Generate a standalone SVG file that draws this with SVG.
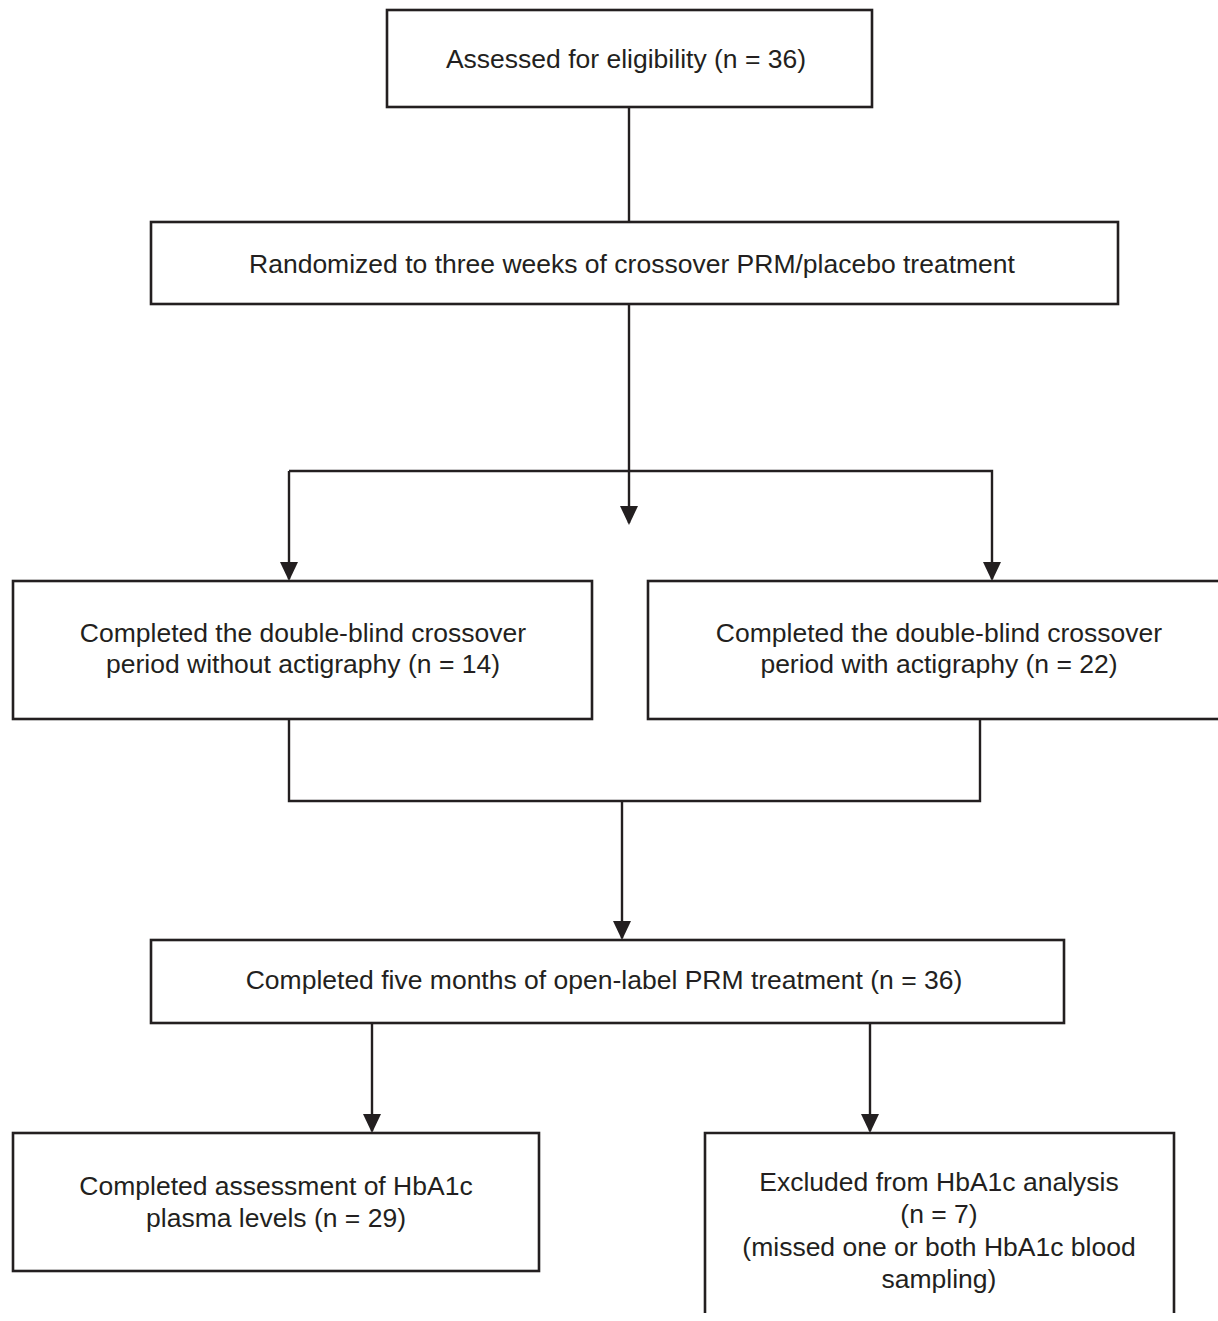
<svg xmlns="http://www.w3.org/2000/svg" width="1218" height="1321" viewBox="0 0 1218 1321">
<style>
.box{fill:#fff;stroke:#231f20;stroke-width:2.6}
.t{font-family:"Liberation Sans",Arial,sans-serif;font-size:26.5px;fill:#231f20;text-anchor:middle}
.c{fill:none;stroke:#231f20;stroke-width:2.4}
</style>
<defs>
<marker id="arr" markerUnits="userSpaceOnUse" markerWidth="20" markerHeight="20" viewBox="0 -10 20 20" refX="17" refY="0" orient="auto">
<path d="M0,-9 L19,0 L0,9 z" fill="#231f20"/>
</marker>
</defs>
<rect width="1218" height="1321" fill="#fff"/>
<g id="connectors">
<line class="c" x1="629" y1="107" x2="629" y2="222"/>
<line class="c" x1="629" y1="304" x2="629" y2="523" marker-end="url(#arr)"/>
<polyline class="c" points="289,471 992,471 992,579" marker-end="url(#arr)"/>
<line class="c" x1="289" y1="471" x2="289" y2="579" marker-end="url(#arr)"/>
<polyline class="c" points="289,719 289,801 980,801 980,719"/>
<line class="c" x1="622" y1="801" x2="622" y2="938" marker-end="url(#arr)"/>
<line class="c" x1="372" y1="1023" x2="372" y2="1131" marker-end="url(#arr)"/>
<line class="c" x1="870" y1="1023" x2="870" y2="1131" marker-end="url(#arr)"/>
</g>
<g id="n1">
<rect class="box" x="387" y="10" width="485" height="97"/>
<text class="t" x="626" y="68">Assessed for eligibility (n = 36)</text>
</g>
<g id="n2">
<rect class="box" x="151" y="222" width="967" height="82"/>
<text class="t" x="632" y="273">Randomized to three weeks of crossover PRM/placebo treatment</text>
</g>
<g id="n3">
<rect class="box" x="13" y="581" width="579" height="138"/>
<text class="t" x="303" y="642">Completed the double-blind crossover</text>
<text class="t" x="303" y="673">period without actigraphy (n = 14)</text>
</g>
<g id="n4">
<rect class="box" x="648" y="581" width="583" height="138"/>
<text class="t" x="939" y="642">Completed the double-blind crossover</text>
<text class="t" x="939" y="673">period with actigraphy (n = 22)</text>
</g>
<g id="n5">
<rect class="box" x="151" y="940" width="913" height="83"/>
<text class="t" x="604" y="989">Completed five months of open-label PRM treatment (n = 36)</text>
</g>
<g id="n6">
<rect class="box" x="13" y="1133" width="526" height="138"/>
<text class="t" x="276" y="1195">Completed assessment of HbA1c</text>
<text class="t" x="276" y="1227">plasma levels (n = 29)</text>
</g>
<g id="n7">
<path class="box" d="M705,1313 L705,1133 L1174,1133 L1174,1313"/>
<text class="t" x="939" y="1191">Excluded from HbA1c analysis</text>
<text class="t" x="939" y="1223">(n = 7)</text>
<text class="t" x="939" y="1256">(missed one or both HbA1c blood</text>
<text class="t" x="939" y="1288">sampling)</text>
</g>
</svg>
